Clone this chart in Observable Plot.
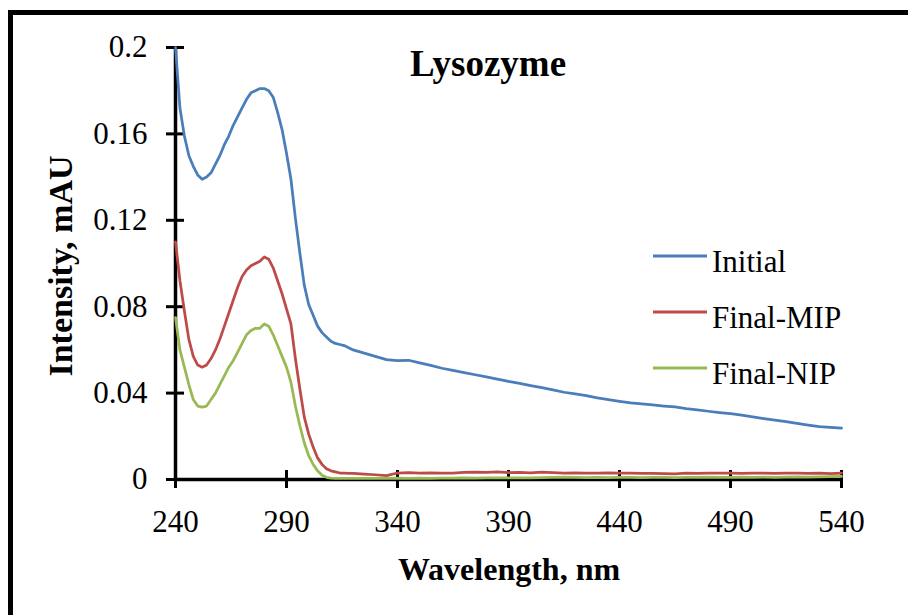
<!DOCTYPE html>
<html>
<head>
<meta charset="utf-8">
<script src="https://cdn.jsdelivr.net/npm/d3@7"></script>
<script src="https://cdn.jsdelivr.net/npm/@observablehq/plot@0.6"></script>
<style>
  html, body { margin: 0; padding: 0; background: #fff; }
  #wrap { position: relative; width: 908px; height: 615px; overflow: hidden; background: #fff; }
  #frameTop { position: absolute; left: 8px; top: 10px; width: 900px; height: 5px; background: #000; }
  #frameLeft { position: absolute; left: 8px; top: 10px; width: 5px; height: 605px; background: #000; }
  #chart { position: absolute; left: 0; top: 0; }
  #chart svg, #chart svg text { font-family: "Liberation Serif", "Times New Roman", serif !important; }
</style>
</head>
<body>
<div id="wrap">
  <div id="chart"></div>
  <div id="frameTop"></div>
  <div id="frameLeft"></div>
</div>
<script>
const titleText = "Lysozyme";
const xLabel = "Wavelength, nm";
const yLabel = "Intensity, mAU";
const seriesNames = ["Initial", "Final-MIP", "Final-NIP"];
const seriesColors = ["#4a7ebb", "#be4b48", "#98b954"];
const xTicks = [240, 290, 340, 390, 440, 490, 540];
const yTicks = [0, 0.04, 0.08, 0.12, 0.16, 0.2];
const yTickLabels = ["0", "0.04", "0.08", "0.12", "0.16", "0.2"];

const wavelength = [
  240, 242, 244, 246, 248, 250, 252, 254, 256, 258,
  260, 262, 264, 266, 268, 270, 272, 274, 276, 278,
  280, 282, 284, 286, 288, 290, 292, 294, 296, 298,
  300, 302, 304, 306, 308, 310, 312, 314, 316, 318,
  320, 325, 330, 335, 340, 345, 350, 355, 360, 365,
  370, 375, 380, 385, 390, 395, 400, 405, 410, 415,
  420, 425, 430, 435, 440, 445, 450, 455, 460, 465,
  470, 475, 480, 485, 490, 495, 500, 505, 510, 515,
  520, 525, 530, 535, 540
];

const initial = [
  0.200, 0.172, 0.159, 0.150, 0.145, 0.141, 0.139, 0.140, 0.142, 0.146,
  0.150, 0.155, 0.159, 0.164, 0.168, 0.172, 0.176, 0.179, 0.180, 0.181,
  0.181, 0.180, 0.177, 0.170, 0.162, 0.151, 0.139, 0.121, 0.105, 0.090,
  0.081, 0.076, 0.071, 0.068, 0.066, 0.064, 0.063, 0.0625, 0.062, 0.061,
  0.060, 0.0585, 0.0570, 0.0555, 0.0550, 0.0552, 0.0540, 0.0528, 0.0515, 0.0505,
  0.0495, 0.0485, 0.0475, 0.0465, 0.0454, 0.0445, 0.0435, 0.0425, 0.0415, 0.0404,
  0.0396, 0.0388, 0.0378, 0.0370, 0.0362, 0.0355, 0.0350, 0.0345, 0.0340, 0.0336,
  0.0328, 0.0322, 0.0316, 0.0310, 0.0305, 0.0298, 0.0290, 0.0282, 0.0275, 0.0268,
  0.0260, 0.0252, 0.0245, 0.0241, 0.0238
];

const finalMIP = [
  0.110, 0.092, 0.078, 0.065, 0.057, 0.053, 0.052, 0.053, 0.056, 0.060,
  0.065, 0.071, 0.077, 0.083, 0.089, 0.094, 0.097, 0.099, 0.100, 0.101,
  0.103, 0.102, 0.098, 0.092, 0.086, 0.079, 0.072, 0.056, 0.042, 0.029,
  0.021, 0.015, 0.010, 0.007, 0.005, 0.004, 0.0035, 0.0030, 0.0030, 0.0028,
  0.0028, 0.0025, 0.0022, 0.0018, 0.0030, 0.0032, 0.0030, 0.0031, 0.0029, 0.0030,
  0.0033, 0.0034, 0.0033, 0.0035, 0.0032, 0.0033, 0.0031, 0.0034, 0.0032, 0.0030,
  0.0031, 0.0029, 0.0030, 0.0031, 0.0029, 0.0030, 0.0028, 0.0028, 0.0027, 0.0026,
  0.0029, 0.0028, 0.0030, 0.0029, 0.0030, 0.0028, 0.0030, 0.0029, 0.0028, 0.0030,
  0.0029, 0.0028, 0.0030, 0.0027, 0.0030
];

const finalNIP = [
  0.075, 0.060, 0.052, 0.044, 0.037, 0.034, 0.0335, 0.034, 0.037, 0.040,
  0.044, 0.048, 0.052, 0.055, 0.059, 0.063, 0.067, 0.069, 0.070, 0.070,
  0.072, 0.071, 0.067, 0.062, 0.057, 0.052, 0.045, 0.034, 0.025, 0.017,
  0.011, 0.007, 0.004, 0.002, 0.001, 0.0006, 0.0005, 0.0005, 0.0005, 0.0005,
  0.0005, 0.0005, 0.0005, 0.0005, 0.0006, 0.0005, 0.0006, 0.0005, 0.0006, 0.0006,
  0.0007, 0.0006, 0.0007, 0.0008, 0.0007, 0.0008, 0.0008, 0.0009, 0.0010, 0.0011,
  0.0010, 0.0009, 0.0010, 0.0009, 0.0010, 0.0010, 0.0009, 0.0010, 0.0010, 0.0009,
  0.0010, 0.0010, 0.0011, 0.0010, 0.0010, 0.0011, 0.0010, 0.0011, 0.0010, 0.0011,
  0.0012, 0.0011, 0.0012, 0.0013, 0.0014
];

const seriesValues = [initial, finalMIP, finalNIP];
const rows = [];
seriesNames.forEach((name, s) => {
  wavelength.forEach((w, i) => rows.push({series: name, wavelength: w, value: seriesValues[s][i]}));
});

const font = "Liberation Serif, Times New Roman, serif";
const W = 908, H = 615;
const chart = Plot.plot({
  width: W,
  height: H,
  marginLeft: 175,
  marginRight: 67,
  marginTop: 47,
  marginBottom: 136,
  style: {fontFamily: font, fontSize: "31px", color: "#000", background: "transparent"},
  x: {domain: [240, 540]},
  y: {domain: [0, 0.2]},
  color: {domain: seriesNames, range: seriesColors},
  marks: [
    Plot.axisY(yTicks, {tickSize: 0, tickPadding: 28, tickFormat: (d) => yTickLabels[yTicks.indexOf(d)], label: null, fontSize: 31}),
    Plot.axisY(yTicks, {tickSize: 18, dx: 9, fill: "none", strokeWidth: 3, label: null}),
    Plot.axisX(xTicks, {tickSize: 0, tickPadding: 30, label: null, fontSize: 31}),
    Plot.axisX(xTicks, {tickSize: 18, dy: -9, fill: "none", strokeWidth: 3, label: null}),
    Plot.ruleX([240], {stroke: "#000", strokeWidth: 3.5}),
    Plot.ruleY([0], {stroke: "#000", strokeWidth: 3.5}),
    Plot.line(rows, {x: "wavelength", y: "value", z: "series", stroke: "series", strokeWidth: 2.75, strokeLinejoin: "round"})
  ]
});
document.getElementById("chart").appendChild(chart);

const svg = d3.select(chart);
svg.attr("font-family", font);
svg.append("text").attr("x", 488).attr("y", 76).attr("text-anchor", "middle")
  .attr("font-family", font).attr("font-weight", "bold").attr("font-size", 37).attr("fill", "#000").text(titleText);
svg.append("text").attr("transform", "translate(72,266) rotate(-90)").attr("text-anchor", "middle")
  .attr("font-family", font).attr("font-weight", "bold").attr("font-size", 34).attr("fill", "#000").text(yLabel);
svg.append("text").attr("x", 509).attr("y", 580).attr("text-anchor", "middle")
  .attr("font-family", font).attr("font-weight", "bold").attr("font-size", 32).attr("fill", "#000").text(xLabel);

const legend = svg.append("g").attr("text-anchor", "start");
seriesNames.forEach((name, i) => {
  const ly = 256 + i * 56;
  legend.append("line").attr("x1", 653).attr("x2", 707).attr("y1", ly).attr("y2", ly)
    .attr("stroke", seriesColors[i]).attr("stroke-width", 3);
  legend.append("text").attr("x", 712).attr("y", ly + 15.5).attr("text-anchor", "start")
    .attr("font-family", font).attr("font-size", 31).attr("fill", "#000").text(name);
});
</script>
</body>
</html>
